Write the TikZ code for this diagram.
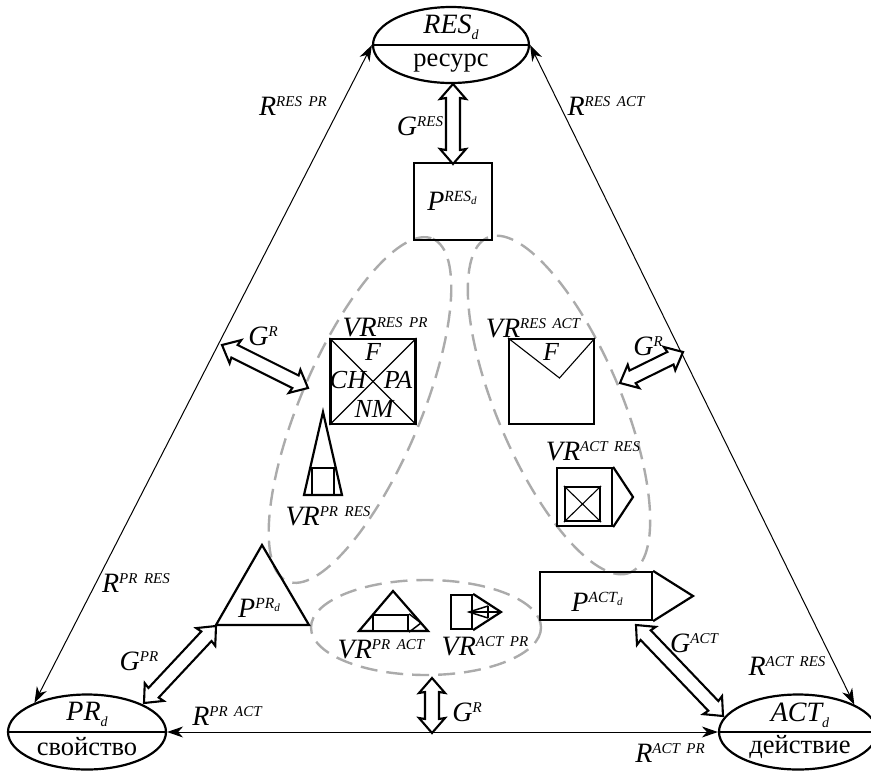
\documentclass[tikz,border=0pt]{standalone}
\usepackage{fontspec}
\setmainfont{Liberation Serif}
\usetikzlibrary{calc,arrows.meta,shapes.geometric}
\newcommand\Sp[1]{\raisebox{9pt}{\fontsize{15}{15}\selectfont\spaceskip=6.5pt #1}}
\newcommand\Sb[1]{\raisebox{-6pt}{\fontsize{14}{14}\selectfont #1}}
\newcommand\Ssp[2]{\raisebox{9pt}{\fontsize{15.5}{15.5}\selectfont #1\raisebox{-3pt}{\fontsize{11}{11}\selectfont #2}}}
\newcommand\DblArrow[2]{%
  \draw[dblarrow] (#1)
  -- ($(#1)!15pt!(#2)!13pt!90:(#2)$)
  -- ($(#1)!14pt!(#2)!7pt!90:(#2)$)
  -- ($(#2)!14pt!(#1)!7pt!-90:(#1)$)
  -- ($(#2)!15pt!(#1)!13pt!-90:(#1)$)
  -- (#2)
  -- ($(#2)!15pt!(#1)!13pt!90:(#1)$)
  -- ($(#2)!14pt!(#1)!7pt!90:(#1)$)
  -- ($(#1)!14pt!(#2)!7pt!-90:(#2)$)
  -- ($(#1)!15pt!(#2)!13pt!-90:(#2)$)
  -- cycle;}
\tikzset{
  lab/.style={font=\fontsize{28}{28}\selectfont\itshape,inner sep=0pt,outer sep=0pt},
  small/.style={font=\fontsize{26}{26}\selectfont\itshape,inner sep=0pt},
  word/.style={font=\fontsize{26.5}{26.5}\selectfont,inner sep=0pt},
  thick line/.style={draw,line width=2.2pt,line join=miter},
  thin line/.style={draw,line width=1.1pt},
  mid line/.style={draw,line width=1.5pt},
  oval/.style={ellipse,draw,line width=2.2pt,inner sep=0pt},
  box/.style={rectangle,draw,line width=2.2pt,inner sep=0pt},
  rel/.style={draw,line width=1pt,{Stealth[inset=5pt,length=16pt,width=11pt]}-{Stealth[inset=5pt,length=16pt,width=11pt]}},
  dblarrow/.style={draw,fill=white,line width=2.1pt,line join=miter,miter limit=3},
  group/.style={draw=black!33,line width=2.4pt,dash pattern=on 17pt off 9pt},
}
\begin{document}
\begin{tikzpicture}[x=1pt,y=-1pt]
\useasboundingbox (0,0) rectangle (871,772);
% groups
\draw[group] (360,410) ellipse [x radius=186,y radius=60,rotate=67];
\draw[group] (559,405) ellipse [x radius=182,y radius=62,rotate=-67];
\draw[group] (426,627.5) ellipse [x radius=115,y radius=47.5];
% ovals
\node[oval,minimum width=156,minimum height=76] (res) at (451,45) {};
\node[oval,minimum width=158,minimum height=75] (pr) at (87,732) {};
\node[oval,minimum width=158,minimum height=75] (act) at (798,732) {};
\draw[thin line] (res.west) -- (res.east);
\draw[thin line] (pr.west) -- (pr.east);
\draw[thin line] (act.west) -- (act.east);
\node[lab] (tres) at (451,27) {RES\Sb{d}};
\node[word] (wres) at (451,63) {ресурс};
\node[lab] (tpr) at (87,714) {PR\Sb{d}};
\node[word] (wpr) at (87,747) {свойство};
\node[lab] (tact) at (800,715) {ACT\Sb{d}};
\node[word] (wact) at (800,747) {действие};
% relations
\draw[rel] (res.west) -- (pr.151);
\draw[rel] (res.east) -- (act.26);
\draw[rel] (pr.east) -- (act.west);
% P squares
\node[box,minimum width=78,minimum height=77] (pres) at (453,201.5) {};
\node[lab] (tpres) at (452,201) {P\Ssp{RES}{d}};
% PR triangle
\coordinate (ta) at (262,545);
\coordinate (tb) at (216,625);
\coordinate (tc) at (309,625);
\draw[thick line] (ta) -- (tb) -- (tc) -- cycle;
\node[lab] (tppr) at (259,608) {P\Ssp{PR}{d}};
% ACT pentagon
\node[box,minimum width=112,minimum height=48] (pact) at (596,596) {};
\coordinate (pacttip) at (693,596);
\draw[thick line] (pact.north east) -- (pacttip) -- (pact.south east);
\node[lab] (tpact) at (597,602) {P\Ssp{ACT}{d}};
% VR RES PR
\node[box,minimum size=85] (vrp) at (373,381.5) {};
\draw[thin line] (vrp.north west) -- (vrp.south east);
\draw[thin line] (vrp.north east) -- (vrp.south west);
\node[small] (f1) at (373,352) {F};
\node[small] (ch) at (348,380) {CH};
\node[small] (pa) at (398,380) {PA};
\node[small] (nm) at (374,409) {NM};
\node[lab] (lvrp) at (385,327) {VR\Sp{RES PR}};
% VR PR RES
\coordinate (pa1) at (323,412);
\coordinate (pa2) at (304,495);
\coordinate (pa3) at (342,495);
\draw[thick line] (pa1) -- (pa2) -- (pa3) -- cycle;
\node[box,minimum width=22,minimum height=27] (pb) at (323,481.5) {};
\node[lab] (lpb) at (328,516) {VR\Sp{PR RES}};
% VR RES ACT
\node[box,minimum size=85] (vra) at (551.5,381.5) {};
\coordinate (vv) at (559.5,378);
\draw[thin line] (vra.north west) -- (vv) -- (vra.north east);
\node[small] (f2) at (551,352) {F};
\node[lab] (lvra) at (533,328) {VR\Sp{RES ACT}};
% VR ACT RES
\node[box,minimum width=55,minimum height=58] (ar) at (584.5,497) {};
\coordinate (artip) at (633,497);
\draw[thick line] (ar.north east) -- (artip) -- (ar.south east);
\node[box,minimum width=35,minimum height=34] (ari) at (582.5,504) {};
\draw[thin line] (ari.north west) -- (ari.south east);
\draw[thin line] (ari.north east) -- (ari.south west);
\node[lab] (lar) at (593,451) {VR\Sp{ACT RES}};
% VR PR ACT
\coordinate (q1) at (393,591);
\coordinate (q2) at (359,631);
\coordinate (q3) at (428,631);
\draw[thick line] (q1) -- (q2) -- (q3) -- cycle;
\node[box,minimum width=35,minimum height=16,fill=white] (qb) at (390.5,623) {};
\coordinate (qt) at (421,623);
\draw[mid line] (qb.north east) -- (qt) -- (qb.south east);
\node[lab] (lq) at (381,649) {VR\Sp{PR ACT}};
% VR ACT PR
\node[box,minimum width=21,minimum height=34] (s) at (461.5,612) {};
\coordinate (st) at (501,612);
\draw[thick line] (s.north east) -- (st) -- (s.south east);
\coordinate (sm) at (469,612);
\coordinate (sa) at (488,606);
\coordinate (sb) at (488,618);
\draw[mid line] (sm) -- (st);
\draw[mid line] (sa) -- (sm) -- (sb);
\draw[thick line] (sa) -- (sb);
\node[lab] (ls) at (485,646) {VR\Sp{ACT PR}};
% double arrows
\coordinate (g1) at (453,84);
\coordinate (g2) at (453,164);
\DblArrow{g1}{g2}
\coordinate (g3) at (222,345);
\coordinate (g4) at (308,388);
\DblArrow{g3}{g4}
\coordinate (g5) at (620,383);
\coordinate (g6) at (683,352);
\DblArrow{g5}{g6}
\coordinate (g7) at (432,678);
\coordinate (g8) at (432,733);
\DblArrow{g7}{g8}
\coordinate (g9) at (216,626);
\coordinate (g10) at (144,703);
\DblArrow{g9}{g10}
\coordinate (g11) at (636,625);
\coordinate (g12) at (723,716);
\DblArrow{g11}{g12}
% labels
\node[lab] (l1) at (293,106) {R\Sp{RES PR}};
\node[lab] (l2) at (606,106) {R\Sp{RES ACT}};
\node[lab] (l3) at (420,126) {G\Sp{RES}};
\node[lab] (l4) at (263,336) {G\Sp{R}};
\node[lab] (l5) at (648,346) {G\Sp{R}};
\node[lab] (l6) at (467,712) {G\Sp{R}};
\node[lab] (l7) at (139,661) {G\Sp{PR}};
\node[lab] (l8) at (694,643) {G\Sp{ACT}};
\node[lab] (l9) at (136,583) {R\Sp{PR RES}};
\node[lab] (l10) at (227,716) {R\Sp{PR ACT}};
\node[lab] (l11) at (787,666) {R\Sp{ACT RES}};
\node[lab] (l12) at (670,753) {R\Sp{ACT PR}};
\end{tikzpicture}
\end{document}
